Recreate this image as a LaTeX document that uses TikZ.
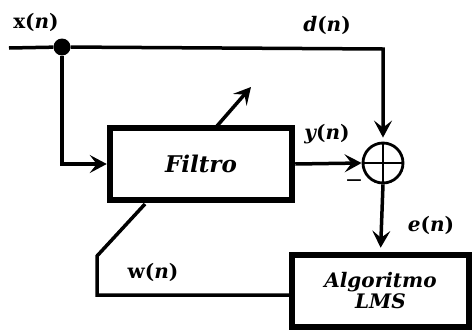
\documentclass[tikz,border=0pt]{standalone}
\usepackage{fontspec}
\setmainfont{DejaVu Serif}
\usetikzlibrary{arrows.meta,calc}
\newcommand{\lbl}[2]{{\bfseries#1(\itshape#2\upshape)}}
\newcommand{\ilbl}[2]{{\bfseries\itshape#1\upshape(\itshape#2\upshape)}}
\begin{document}
\begin{tikzpicture}[x=1pt,y=-1pt,
  conn/.style={line width=3.5pt},
  arr/.style={conn,-{Stealth[length=17pt,width=18pt,inset=7pt]}},
  blockbox/.style={draw,line width=6.5pt,rectangle,inner sep=0pt,font=\fontsize{20}{24}\selectfont\bfseries\itshape,align=center},
  lab/.style={font=\fontsize{20}{24}\selectfont,inner sep=0pt}
]
\useasboundingbox (0,0) rectangle (472,330);
\node[blockbox,minimum width=182pt,minimum height=72pt,font=\fontsize{23}{26}\selectfont\bfseries\itshape] (filt) at (201,164) {Filtro};
\node[blockbox,minimum width=177pt,minimum height=72pt] (lms) at (380.5,291) {Algoritmo\\[-3pt]LMS};
\node[draw,circle,line width=2.8pt,minimum size=40pt,inner sep=0pt] (sum) at (383,163) {};
\draw[line width=2pt] (sum.north) -- (sum.south) (sum.west) -- (sum.east);
\node[fill,circle,minimum size=17pt,inner sep=0pt] (dot) at (62,47) {};
\coordinate (in) at (9,48);
\coordinate (corner) at (383,49);
\coordinate (bend1) at (62,164);
\coordinate (fbR) at (292,295);
\coordinate (fb1) at (97,295);
\coordinate (fb2) at (97,256);
\coordinate (fb3) at (145,204);
\coordinate (dg1) at (217,126);
\coordinate (dg2) at (251,87);
\draw[conn] (in) -- (dot);
\draw[arr,shorten >=4pt] (dot) -- (corner) -- (sum.north);
\draw[arr] (dot) -- (bend1) -- (filt.west);
\draw[arr] (filt.east) -- (sum.west);
\draw[arr,shorten >=4pt] (sum.south) -- (lms.north);
\draw[arr] (dg1) -- (dg2);
\draw[conn,line join=miter] (lms.west |- fbR) -- (fb1) -- (fb2) -- (fb3);
\node[lab] (xn) at (36,22) {\lbl{x}{n}};
\node[lab] (dn) at (327,25) {\ilbl{d}{n}};
\node[lab] (yn) at (327,134) {\ilbl{y}{n}};
\node[lab] (en) at (431,225) {\ilbl{e}{n}};
\node[lab] (wn) at (153,272) {\lbl{w}{n}};
\node[lab,font=\fontsize{22}{24}\selectfont] (minus) at (354,184) {−};
\end{tikzpicture}
\end{document}
